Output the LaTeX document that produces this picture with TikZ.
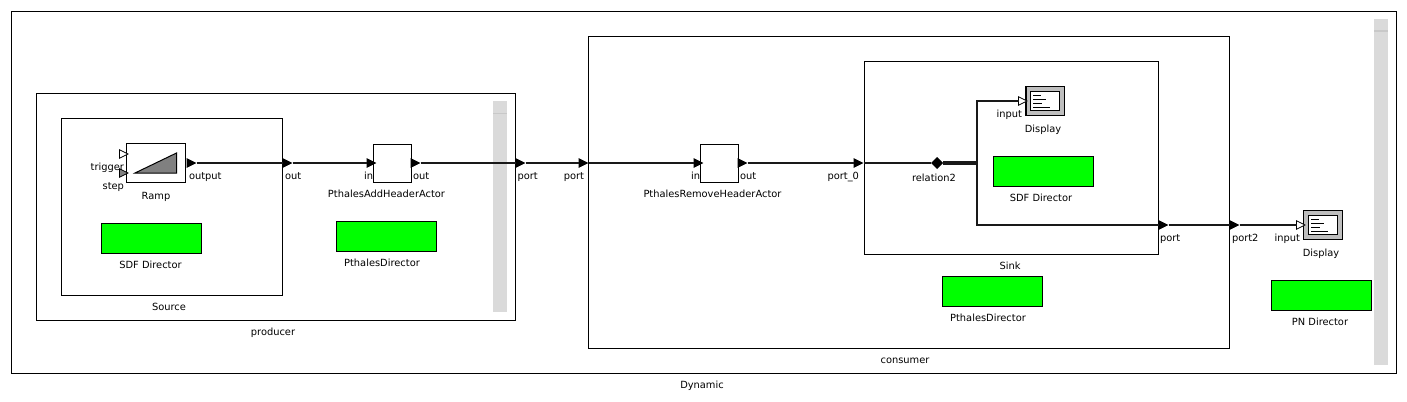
\documentclass[tikz,border=0pt]{standalone}
\usepackage{fontspec}
\setmainfont{DejaVu Sans}
\usetikzlibrary{shapes.geometric}
\tikzset{
  frame/.style={draw=black,line width=1pt,fill=white,inner sep=0pt,outer sep=0pt,rectangle},
  director/.style={frame,fill=dirgreen},
  bar/.style={fill=bargrey,draw=none,inner sep=0pt,outer sep=0pt,rectangle},
  barline/.style={draw=barline,line width=1pt},
  port/.style={isosceles triangle,isosceles triangle stretches,shape border rotate=0,minimum width=8.5*0.75pt,minimum height=8.5*0.75pt,inner sep=0pt,outer sep=0pt,draw=black,line width=.6pt,fill=black,anchor=apex},
  openport/.style={port,fill=white},
  greyport/.style={port,fill=gray},
  wire/.style={draw=wirecol,line width=2pt,shorten <=.75pt},
  lbl/.style={font=\fontsize{7.4pt}{9pt}\selectfont,inner sep=0pt,outer sep=0pt,text=black},
  lw/.style={lbl,anchor=base west},
  lc/.style={lbl,anchor=base},
  le/.style={lbl,anchor=base east},
  rel/.style={diamond,fill=black,draw=none,minimum width=12*0.75pt,minimum height=12*0.75pt,inner sep=0pt,outer sep=0pt},
  disp/.style={frame,fill=dispgrey},
  screen/.style={frame,fill=white},
  glyphline/.style={draw=black,line width=.75pt}
}
\definecolor{dirgreen}{RGB}{0,255,0}
\definecolor{bargrey}{RGB}{218,218,218}
\definecolor{barline}{RGB}{200,200,200}
\definecolor{wirecol}{RGB}{25,25,25}
\definecolor{dispgrey}{RGB}{190,190,190}
\newcommand{\pxbox}[6]{\node[#1,minimum width={(#5-#3)*0.75pt},minimum height={(#6-#4)*0.75pt}] (#2) at ({(#3+#5)/2},{(#4+#6)/2}) {};}
\begin{document}
\begin{tikzpicture}[x=0.75pt,y=-0.75pt]
\useasboundingbox (0,0) rectangle (1407,401);
\fill[white] (0,0) rectangle (1407,401);
% containers
\pxbox{frame}{dynamic}{11.5}{11.5}{1396.5}{373.5}
\pxbox{bar}{bartop}{1374}{19}{1388}{365}
\draw[barline] (1374,31) -- (1388,31);
\pxbox{frame}{producer}{36.5}{93.5}{515.5}{320.5}
\pxbox{bar}{barprod}{493}{101}{507}{312}
\draw[barline] (493,113.5) -- (507,113.5);
\pxbox{frame}{source}{61.5}{118.5}{282.5}{295.5}
\pxbox{frame}{consumer}{588.5}{36.5}{1229.5}{348.5}
\pxbox{frame}{sink}{864.5}{61.5}{1158.5}{254.5}
% actors
\pxbox{frame}{ramp}{126.5}{143.5}{185.5}{182.5}
\fill[gray,draw=black,line width=.75pt] (135,173) -- (176.5,153) -- (176.5,173) -- cycle;
\pxbox{frame}{addhdr}{373.5}{144.5}{411.5}{182.5}
\pxbox{frame}{remhdr}{700.5}{144.5}{738.5}{182.5}
\pxbox{disp}{dispa}{1026}{86.5}{1064.5}{115.5}
\pxbox{screen}{scra}{1030.5}{91.5}{1059.5}{110.5}
\foreach \yy/\xx in {95/1041,99/1046,103/1042,107/1050} \draw[glyphline] (1033,\yy) -- (\xx,\yy);
\pxbox{disp}{dispb}{1303.5}{210.5}{1342.5}{239.5}
\pxbox{screen}{scrb}{1308.5}{215.5}{1337.5}{234.5}
\foreach \yy/\xx in {219/1319,223/1324,227/1320,231/1328} \draw[glyphline] (1311,\yy) -- (\xx,\yy);
% directors
\pxbox{director}{dirsource}{101.5}{223.5}{201.5}{253.5}
\pxbox{director}{dirprod}{336.5}{221.5}{436.5}{251.5}
\pxbox{director}{dirsink}{993.5}{156.5}{1093.5}{186.5}
\pxbox{director}{dircons}{942.5}{276.5}{1042.5}{306.5}
\pxbox{director}{dirpn}{1271.5}{280.5}{1371.5}{310.5}
% junctions
\node[rel] (relation) at (937,163) {};
\coordinate (junction) at (977,163);
% ports
\node[openport] (ptrigger) at (128,154) {};
\node[greyport] (pstep) at (128,173) {};
\node[port] (poutput) at (195.5,163) {};
\node[port] (pout) at (291.5,163) {};
\node[port] (pin) at (375.5,163) {};
\node[port] (paddout) at (419.5,163) {};
\node[port] (pprod) at (524.5,163) {};
\node[port] (pcons) at (587.5,163) {};
\node[port] (prin) at (702.5,163) {};
\node[port] (prout) at (746.5,163) {};
\node[port] (pzero) at (862.5,163) {};
\node[openport] (pdispa) at (1027,101) {};
\node[port] (psink) at (1167.5,225) {};
\node[port] (pport2) at (1238.5,225) {};
\node[openport] (pdispb) at (1305,225) {};
% wires
\draw[wire] (poutput.apex) -- (pout.lower side);
\draw[wire] (pout.apex) -- (pin.lower side);
\draw[wire] (paddout.apex) -- (pprod.lower side);
\draw[wire] (pprod.apex) -- (pcons.lower side);
\draw[wire] (pcons.apex) -- (prin.lower side);
\draw[wire] (prout.apex) -- (pzero.lower side);
\draw[wire] (pzero.apex) -- (relation);
\draw[wire,shorten <=0pt,line width=2.4pt] (relation) -- (junction);
\draw[wire,shorten <=0pt] (junction) |- (pdispa.lower side);
\draw[wire,shorten <=0pt] (junction) |- (psink.lower side);
\draw[wire] (psink.apex) -- (pport2.lower side);
\draw[wire] (pport2.apex) -- (pdispb.lower side);
% labels
\node[le] (ltrigger) at (124,170) {trigger};
\node[le] (lstep) at (124,189) {step};
\node[lw] (loutput) at (189,179) {output};
\node[lc] (lramp) at (156,199) {Ramp};
\node[lw] (lout) at (285,179) {out};
\node[le] (lin) at (373,179) {in};
\node[lw] (lout2) at (413,179) {out};
\node[lc] (laddh) at (386.5,197) {PthalesAddHeaderActor};
\node[lw] (lport) at (517.5,179) {port};
\node[le] (lport2) at (584,179) {port};
\node[le] (lin2) at (700,179) {in};
\node[lw] (lout3) at (740,179) {out};
\node[lc] (lremh) at (712.5,197) {PthalesRemoveHeaderActor};
\node[le] (lzero) at (859,179) {port\_0};
\node[lc] (lrel) at (934,181) {relation2};
\node[le] (linput) at (1022,117) {input};
\node[lc] (ldisp) at (1043,132) {Display};
\node[lc] (lsdf) at (1041,201) {SDF Director};
\node[lc] (lsink) at (1010,269) {Sink};
\node[lw] (lsport) at (1160,241) {port};
\node[lw] (lport3) at (1232,241) {port2};
\node[le] (linput2) at (1300,241) {input};
\node[lc] (ldisp2) at (1321,256) {Display};
\node[lc] (lpn) at (1320,325) {PN Director};
\node[lc] (lpd) at (988,321) {PthalesDirector};
\node[lc] (lcons) at (905,363) {consumer};
\node[lc] (lprod) at (273,335) {producer};
\node[lc] (lsrc) at (169,310) {Source};
\node[lc] (lsdf2) at (150.5,268) {SDF Director};
\node[lc] (lpd2) at (382,266) {PthalesDirector};
\node[lc] (ldyn) at (702,388) {Dynamic};
\end{tikzpicture}
\end{document}
